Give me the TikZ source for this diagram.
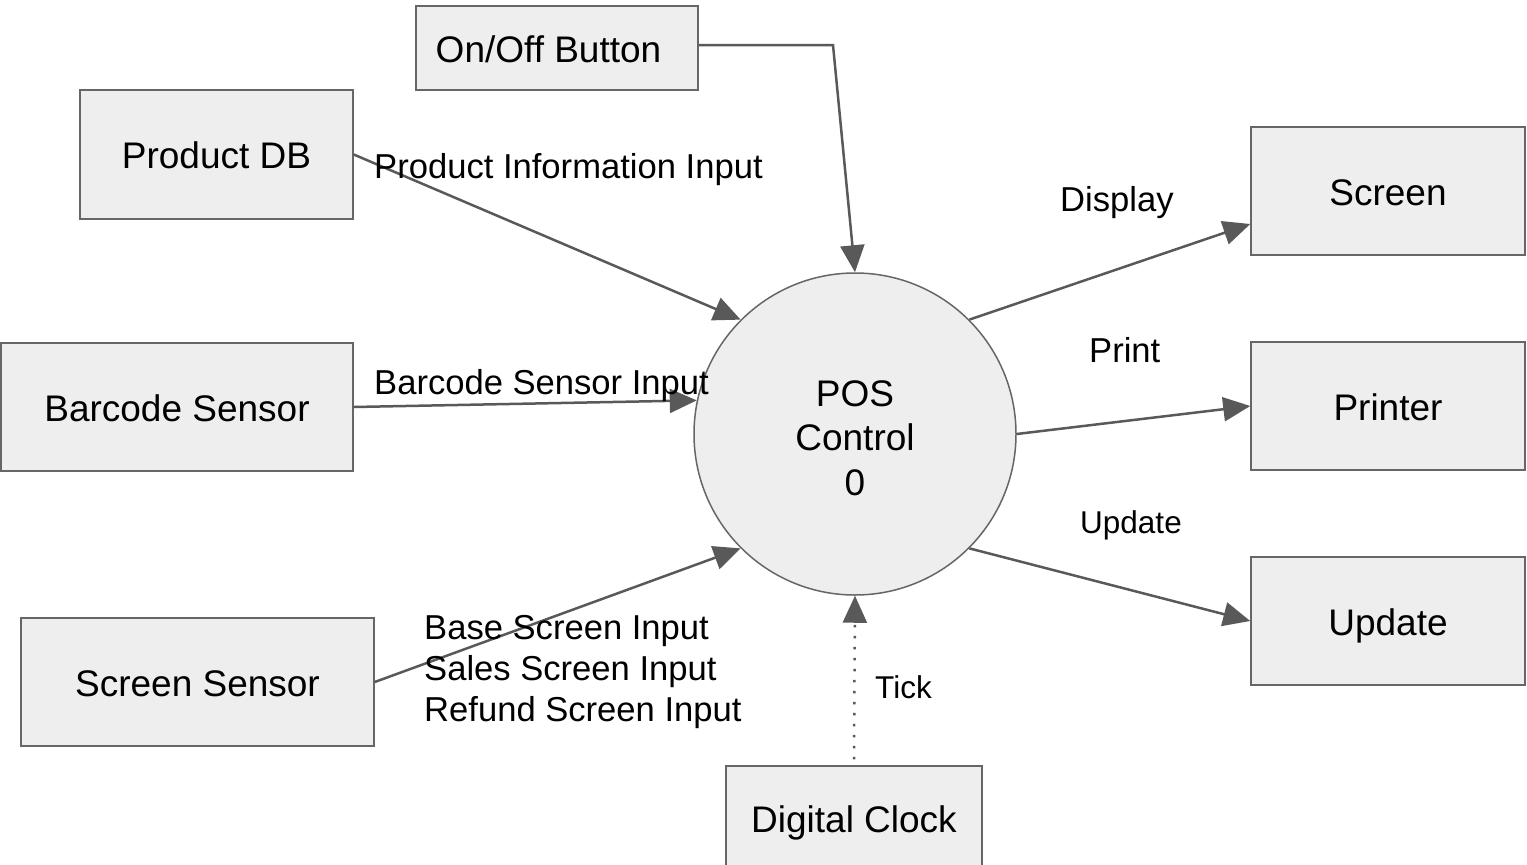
\documentclass[tikz,border=0pt]{standalone}
\usepackage{fontspec}
\setmainfont{Liberation Sans}
\usetikzlibrary{arrows.meta}
\definecolor{boxfill}{HTML}{EEEEEE}
\definecolor{boxline}{HTML}{666666}
\definecolor{arrowc}{HTML}{595959}
\begin{document}
\begin{tikzpicture}[x=1pt,y=-1pt,
 ent/.style={draw=boxline, fill=boxfill, line width=1.5pt, inner sep=0pt, text height=28pt, text depth=0pt, font=\fontsize{37}{44}\selectfont},
 flow/.style={draw=arrowc, line width=2.5pt, -{Triangle[length=27pt,width=24pt]}},
 lbl/.style={inner sep=0pt, anchor=base west, font=\fontsize{34.6}{41}\selectfont},
 slbl/.style={inner sep=0pt, anchor=base west, font=\fontsize{31.5}{38}\selectfont}]
\useasboundingbox (0,0) rectangle (1527,865);

\node[ent, minimum width=282pt, minimum height=84pt] (onoff) at (557,48) {On/Off Button\hspace*{17pt}};
\node[ent, minimum width=273pt, minimum height=129pt] (pdb) at (216.5,154.5) {Product DB};
\node[ent, minimum width=352pt, minimum height=128pt] (bar) at (177,407) {Barcode Sensor};
\node[ent, minimum width=353pt, minimum height=128pt] (ss) at (197.5,682) {Screen Sensor};
\node[ent, minimum width=256pt, minimum height=104pt] (clk) at (854,818) {Digital Clock};
\node[ent, minimum width=274pt, minimum height=128pt] (scr) at (1388,191) {Screen};
\node[ent, minimum width=274pt, minimum height=128pt] (prn) at (1388,406) {Printer};
\node[ent, minimum width=274pt, minimum height=128pt] (upd) at (1388,621) {Update};
\node[draw=boxline, fill=boxfill, line width=1.5pt, inner sep=0pt, circle, minimum size=322pt, align=center, font=\fontsize{37}{44.5}\selectfont] (c) at (855,434) {\rule{0pt}{33.5pt}POS\\Control\\0};

\coordinate (bend) at (833,45);
\draw[flow] ([yshift=3pt]onoff.east) -- (bend) -- (c.90);
\draw[flow] (pdb.east) -- (c.135);
\draw[flow] (bar.east) -- (c.168);
\draw[flow] (ss.east) -- (c.225);
\draw[flow, dash pattern=on 2.5pt off 8.5pt] ([yshift=6pt]clk.north) -- (c.270);
\draw[flow] (c.45) -- ([yshift=-33pt]scr.west);
\draw[flow] (c.0) -- (prn.west);
\draw[flow] (c.-45) -- (upd.west);

\node[lbl] (lpi) at (374,178) {Product Information Input};
\node[lbl] (lbs) at (374,394) {Barcode Sensor Input};
\node[lbl] (lss1) at (424,639) {Base Screen Input};
\node[lbl] (lss2) at (424,680) {Sales Screen Input};
\node[lbl] (lss3) at (424,721) {Refund Screen Input};
\node[slbl] (ltick) at (875,698) {Tick};
\node[lbl] (ldisp) at (1060,211) {Display};
\node[lbl] (lprint) at (1089,362) {Print};
\node[slbl] (lupd) at (1080,533) {Update};
\end{tikzpicture}
\end{document}
